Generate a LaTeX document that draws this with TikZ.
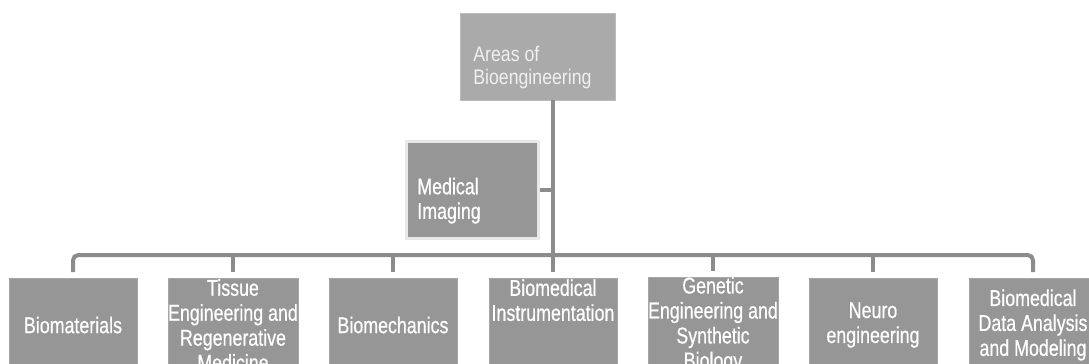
\documentclass[tikz,border=0pt]{standalone}
\usepackage{fontspec}
\setmainfont{Liberation Sans}[FakeStretch=0.84]
\newfontfamily\boxfont{Liberation Sans}[FakeStretch=0.78, FakeBold=0.6]
\usetikzlibrary{shapes,arrows,positioning}

\definecolor{boxgray}{RGB}{150,150,150}
\definecolor{rootgray}{RGB}{170,170,170}
\definecolor{linegray}{RGB}{140,140,140}
\definecolor{rimgray}{RGB}{232,232,232}

\begin{document}
\begin{tikzpicture}[auto, node distance=3.2cm,
    area/.style={draw=boxgray!85!white, fill=boxgray, line width=0.4pt, rectangle,
      minimum width=2.56cm, minimum height=1.88cm, inner sep=0pt, outer sep=0pt,
      text=white, align=center, font=\boxfont\fontsize{13}{14.2}\selectfont},
    conn/.style={draw=linegray, line width=0.08cm}]

        \useasboundingbox (0,0) rectangle (21.78,-7.26);
        \clip (0,0) rectangle (21.78,-7.26);

        % Nós
        \node [draw=rootgray!80!white, fill=rootgray, rectangle, minimum width=3.1cm, minimum height=1.74cm,
               inner sep=0pt, outer sep=0pt] (root) at (10.75,-1.13) {};
        \node [anchor=south west, inner sep=0pt, align=left, text=white!94!black,
               font=\fontsize{12}{13}\selectfont] (rootlbl) at ([xshift=-1.29cm,yshift=-0.65cm]root.center)
               {Areas of\\Bioengineering};
        \node [draw=rimgray, fill=boxgray, line width=0.06cm, rectangle, minimum width=2.64cm, minimum height=1.94cm,
               inner sep=0pt] (med) at (9.45,-3.8) {};
        \node [anchor=south west, inner sep=0pt, align=left, text=white,
               font=\boxfont\fontsize{13}{14}\selectfont] (medlbl) at ([xshift=-1.11cm,yshift=-0.68cm]med.center)
               {Medical\\Imaging};

        \node [area] (biomat) at (1.46,-6.5) {Biomaterials};
        \node [area, right of=biomat] (tissue) {Tissue\\Engineering and\\Regenerative\\Medicine};
        \node [area, right of=tissue] (biomech) {Biomechanics};
        \node [area, right of=biomech] (instr) {Biomedical\\Instrumentation\\~\\~};
        \node [area, right of=instr] (genetic) {Genetic\\Engineering and\\Synthetic\\Biology};
        \node [area, right of=genetic] (neuro) {Neuro\\engineering};
        \node [area, right of=neuro] (data) {Biomedical\\Data Analysis\\and Modeling};

        \coordinate (bus) at ([yshift=0.46cm]instr.north);

        % Conexões
        \draw [conn] (instr |- root.south) -- (bus);
        \draw [conn] (med.east) -- (med.east -| bus);
        \draw [conn, rounded corners=3pt] ([yshift=0.12cm]biomat.north) |- (bus) -| ([yshift=0.12cm]data.north);
        \foreach \n in {tissue,biomech,instr,genetic,neuro}
            \draw [conn] ([yshift=0.12cm]\n.north) -- (\n.north |- bus);

    \end{tikzpicture}
\end{document}
